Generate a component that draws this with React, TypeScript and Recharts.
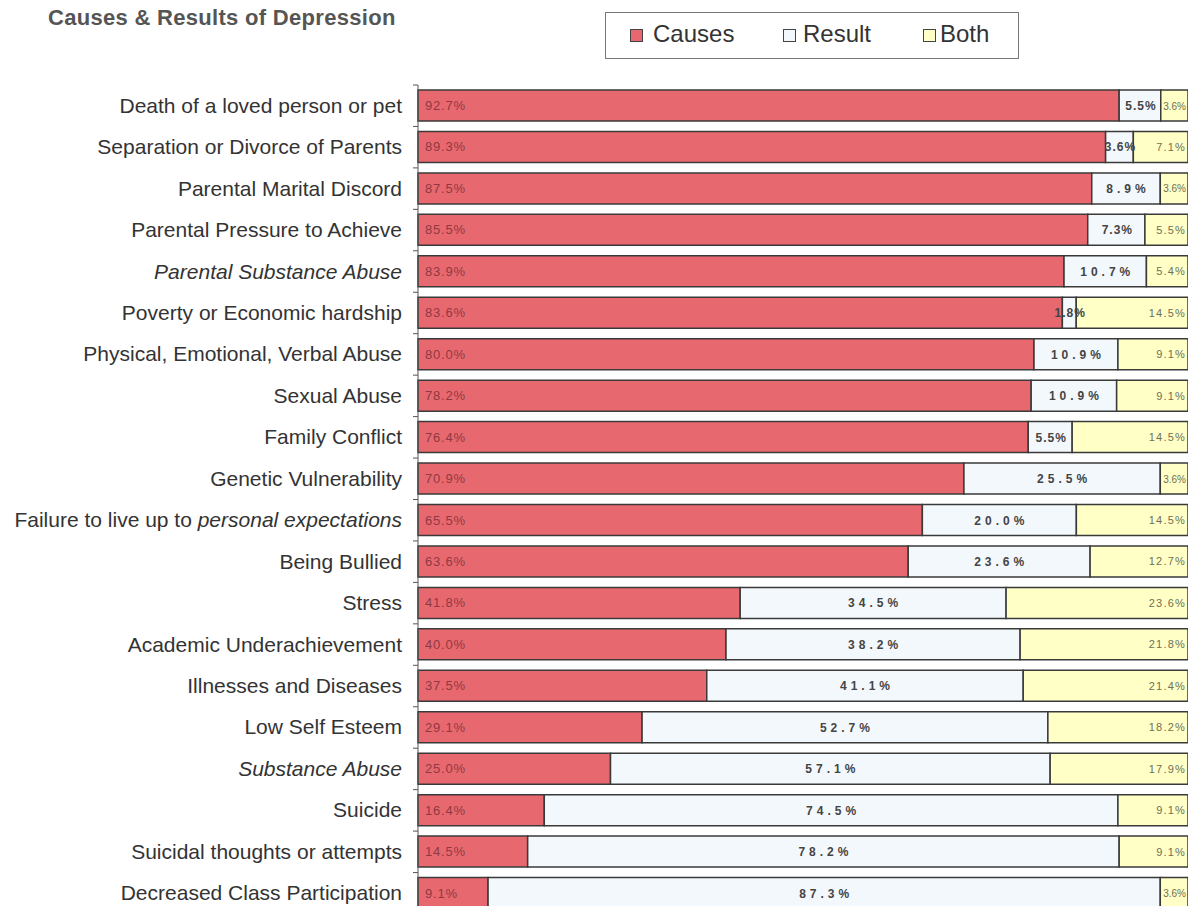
import { BarChart, Bar, XAxis, YAxis, LabelList } from 'recharts';

const categories = [
  'Death of a loved person or pet',
  'Separation or Divorce of Parents',
  'Parental Marital Discord',
  'Parental Pressure to Achieve',
  'Parental Substance Abuse',
  'Poverty or Economic hardship',
  'Physical, Emotional, Verbal Abuse',
  'Sexual Abuse',
  'Family Conflict',
  'Genetic Vulnerability',
  'Failure to live up to personal expectations',
  'Being Bullied',
  'Stress',
  'Academic Underachievement',
  'Illnesses and Diseases',
  'Low Self Esteem',
  'Substance Abuse',
  'Suicide',
  'Suicidal thoughts or attempts',
  'Decreased Class Participation',
];

const causes = [92.7, 89.3, 87.5, 85.5, 83.9, 83.6, 80.0, 78.2, 76.4, 70.9, 65.5, 63.6, 41.8, 40.0, 37.5, 29.1, 25.0, 16.4, 14.5, 9.1];
const result = [5.5, 3.6, 8.9, 7.3, 10.7, 1.8, 10.9, 10.9, 5.5, 25.5, 20.0, 23.6, 34.5, 38.2, 41.1, 52.7, 57.1, 74.5, 78.2, 87.3];
const both = [3.6, 7.1, 3.6, 5.5, 5.4, 14.5, 9.1, 9.1, 14.5, 3.6, 14.5, 12.7, 23.6, 21.8, 21.4, 18.2, 17.9, 9.1, 9.1, 3.6];

const seriesNames = ['Causes', 'Result', 'Both'];
const colors = ['#E8686F', '#F3F8FC', '#FFFFC6'];

const data = categories.map((name, i) => ({
  name,
  causes: causes[i],
  result: result[i],
  both: both[i],
}));

const FONT = '"Liberation Sans", Arial, sans-serif';
const PLOT_TOP = 85;
const PLOT_BOTTOM = 914;
const BAND = (PLOT_BOTTOM - PLOT_TOP) / categories.length;

const fmt = (v: any) => Number(v).toFixed(1) + '%';

function CategoryTick(props: any) {
  const { x, y, payload } = props;
  const name: string = payload.value;
  let content: any = name;
  let italic = false;
  if (name === 'Parental Substance Abuse' || name === 'Substance Abuse') italic = true;
  if (name.startsWith('Failure')) {
    content = (
      <>
        <tspan>Failure to live up to </tspan>
        <tspan fontStyle="italic">personal expectations</tspan>
      </>
    );
  }
  return (
    <g>
      <line x1={x + 11} x2={x + 16} y1={y - BAND / 2} y2={y - BAND / 2} stroke="#555" />
      <text
        x={x}
        y={y}
        dy={7}
        textAnchor="end"
        fontSize={21}
        fill="#333"
        fontFamily={FONT}
        fontStyle={italic ? 'italic' : 'normal'}
      >
        {content}
      </text>
    </g>
  );
}

const CausesLabel = (p: any) => (
  <text x={p.x + 7} y={p.y + p.height / 2} dy={4.5} fontSize={13} letterSpacing={0.8} fill="#8e3a44" fontFamily={FONT}>
    {fmt(p.value)}
  </text>
);

const ResultLabel = (p: any) => {
  const narrow = p.width < 60;
  return (
    <text
      x={p.x + p.width / 2 + (narrow ? 1 : 2)}
      y={p.y + p.height / 2}
      dy={4.5}
      textAnchor="middle"
      fontSize={12}
      fontWeight="bold"
      letterSpacing={narrow ? 1 : 4}
      fill="#444"
      fontFamily={FONT}
    >
      {fmt(p.value)}
    </text>
  );
};

const BothLabel = (p: any) => {
  const narrow = p.width < 36;
  return (
    <text
      x={p.x + p.width - 2}
      y={p.y + p.height / 2}
      dy={4}
      textAnchor="end"
      fontSize={narrow ? 10 : 11}
      letterSpacing={narrow ? 0 : 1.2}
      fill="#6f6f55"
      fontFamily={FONT}
    >
      {fmt(p.value)}
    </text>
  );
};

const legendItems = [
  { square: 630, text: 653 },
  { square: 783, text: 803 },
  { square: 923, text: 940 },
];

export default function App() {
  return (
    <div style={{ position: 'relative', margin: -8, width: 1196, height: 914, background: '#fff', fontFamily: FONT }}>
      <div style={{ position: 'absolute', left: 48, top: 7, fontSize: 22, lineHeight: '22px', fontWeight: 'bold', color: '#555', letterSpacing: 0.3 }}>
        Causes &amp; Results of Depression
      </div>
      <div
        style={{
          position: 'absolute',
          left: 605,
          top: 12,
          width: 414,
          height: 47,
          boxSizing: 'border-box',
          border: '1px solid #777',
          zIndex: 2,
        }}
      />
      {legendItems.map((it, i) => (
        <div key={seriesNames[i]}>
          <div
            style={{
              position: 'absolute',
              left: it.square,
              top: 29,
              width: 13,
              height: 13,
              boxSizing: 'border-box',
              border: '1px solid #444',
              background: colors[i],
            }}
          />
          <div style={{ position: 'absolute', left: it.text, top: 22, fontSize: 24, lineHeight: '24px', color: '#333' }}>
            {seriesNames[i]}
          </div>
        </div>
      ))}
      <BarChart
        width={1196}
        height={914}
        data={data}
        layout="vertical"
        stackOffset="expand"
        barCategoryGap={5}
        margin={{ top: PLOT_TOP, right: 8, bottom: 0, left: 0 }}
      >
        <XAxis type="number" orientation="top" height={0} tick={false} tickLine={false} axisLine={{ stroke: '#333' }} domain={[0, 1]} />
        <YAxis
          type="category"
          dataKey="name"
          width={418}
          tickLine={false}
          tickSize={0}
          tickMargin={16}
          interval={0}
          axisLine={{ stroke: '#555' }}
          tick={<CategoryTick />}
        />
        <Bar dataKey="causes" name="Causes" stackId="a" fill={colors[0]} stroke="#3a3a3a" strokeWidth={1.5} isAnimationActive={false}>
          <LabelList dataKey="causes" content={CausesLabel} />
        </Bar>
        <Bar dataKey="result" name="Result" stackId="a" fill={colors[1]} stroke="#3a3a3a" strokeWidth={1.5} isAnimationActive={false}>
          <LabelList dataKey="result" content={ResultLabel} />
        </Bar>
        <Bar dataKey="both" name="Both" stackId="a" fill={colors[2]} stroke="#3a3a3a" strokeWidth={1.5} isAnimationActive={false}>
          <LabelList dataKey="both" content={BothLabel} />
        </Bar>
      </BarChart>
    </div>
  );
}
